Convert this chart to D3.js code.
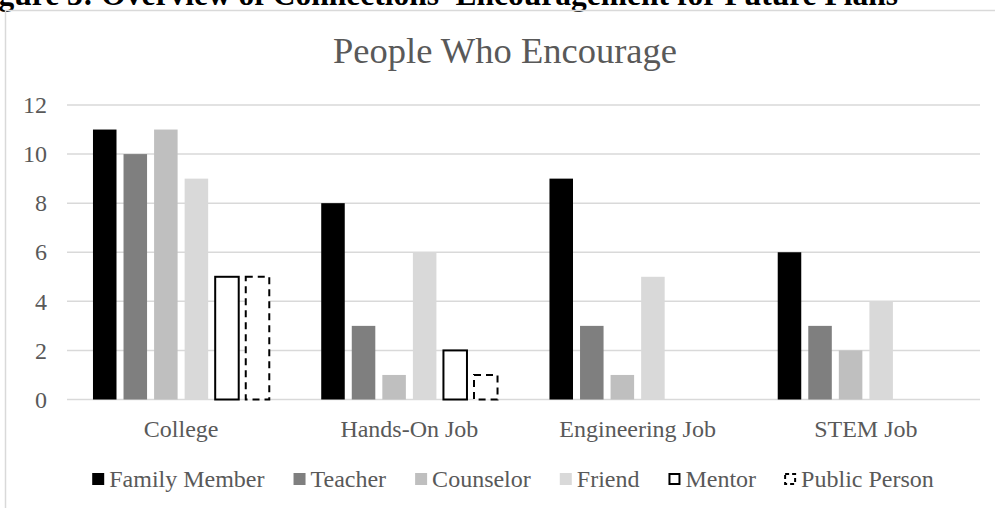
<!DOCTYPE html>
<html>
<head>
<meta charset="utf-8">
<script src="https://cdn.jsdelivr.net/npm/d3@7/dist/d3.min.js"></script>
<style>
  html, body { margin: 0; padding: 0; background: #fff; }
  svg { display: block; }
  text { font-family: "Liberation Serif", "Times New Roman", serif; }
</style>
</head>
<body>
<svg id="chart" width="995" height="508"></svg>
<script>
// Encouragement counts by plan type and by who gave it
const categories = ["College", "Hands-On Job", "Engineering Job", "STEM Job"];
const seriesNames = ["Family Member", "Teacher", "Counselor", "Friend", "Mentor", "Public Person"];

const familyMember = [11, 8, 9, 6];
const teacher      = [10, 3, 3, 3];
const counselor    = [11, 1, 1, 2];
const friend       = [9, 6, 5, 4];
const mentor       = [5, 2, 0, 0];
const publicPerson = [5, 1, 0, 0];

const yTicks = [0, 2, 4, 6, 8, 10, 12];

const seriesValues = [familyMember, teacher, counselor, friend, mentor, publicPerson];

// fill / outline for each series
const styles = {
  "Family Member": { fill: "#000000", stroke: "none", dash: null },
  "Teacher":       { fill: "#7f7f7f", stroke: "none", dash: null },
  "Counselor":     { fill: "#bfbfbf", stroke: "none", dash: null },
  "Friend":        { fill: "#d9d9d9", stroke: "none", dash: null },
  "Mentor":        { fill: "#ffffff", stroke: "#000000", dash: null },
  "Public Person": { fill: "#ffffff", stroke: "#000000", dash: "7,5" }
};

const svg = d3.select("#chart");
const textColor = "#595959";
const gridColor = "#d9d9d9";
const labelSize = 24;

// caption above the chart frame
svg.append("text")
  .attr("x", 898).attr("y", 5)
  .attr("text-anchor", "end")
  .attr("font-weight", "bold")
  .attr("font-size", 31.5)
  .attr("fill", "#000")
  .text("Figure 3: Overview of Connections' Encouragement for Future Plans");

// chart frame
svg.append("rect")
  .attr("x", 5.5).attr("y", 10.5)
  .attr("width", 1200).attr("height", 800)
  .attr("fill", "none")
  .attr("stroke", gridColor)
  .attr("stroke-width", 1.5);

// chart title
svg.append("text")
  .attr("x", 505).attr("y", 63)
  .attr("text-anchor", "middle")
  .attr("font-size", 36.5)
  .attr("fill", textColor)
  .text("People Who Encourage");

const plot = { left: 67, right: 980, top: 105, bottom: 399.5 };

const y = d3.scaleLinear().domain([0, 12]).range([plot.bottom, plot.top]);
const x0 = d3.scaleBand().domain(categories).range([plot.left, plot.right]);
const x1 = d3.scaleBand().domain(seriesNames)
  .range([0, x0.bandwidth()])
  .paddingInner(0.23)
  .paddingOuter(0.85);

// horizontal gridlines
svg.append("g")
  .selectAll("line")
  .data(yTicks)
  .join("line")
  .attr("x1", plot.left).attr("x2", plot.right)
  .attr("y1", d => y(d)).attr("y2", d => y(d))
  .attr("stroke", gridColor)
  .attr("stroke-width", 1.5);

// y axis labels
const yAxis = d3.axisLeft(y).tickValues(yTicks).tickSize(0).tickPadding(0);
const yg = svg.append("g").attr("transform", "translate(47,0)").call(yAxis);
yg.select(".domain").remove();
yg.selectAll("text")
  .attr("font-family", "Liberation Serif, serif")
  .attr("font-size", labelSize)
  .attr("fill", textColor);

// x axis labels
const xAxis = d3.axisBottom(x0).tickSize(0).tickPadding(0);
const xg = svg.append("g").attr("transform", "translate(0,420)").call(xAxis);
xg.select(".domain").remove();
xg.selectAll("text")
  .attr("font-family", "Liberation Serif, serif")
  .attr("font-size", labelSize)
  .attr("fill", textColor);

// bars
const barData = [];
categories.forEach((c, ci) => {
  seriesNames.forEach((s, si) => {
    barData.push({ category: c, series: s, value: seriesValues[si][ci] });
  });
});

svg.append("g")
  .selectAll("rect")
  .data(barData.filter(d => d.value > 0))
  .join("rect")
  .attr("x", d => x0(d.category) + x1(d.series))
  .attr("y", d => y(d.value))
  .attr("width", x1.bandwidth())
  .attr("height", d => y(0) - y(d.value))
  .attr("fill", d => styles[d.series].fill)
  .attr("stroke", d => styles[d.series].stroke)
  .attr("stroke-width", d => styles[d.series].stroke === "none" ? 0 : 2)
  .attr("stroke-dasharray", d => styles[d.series].dash);

// legend, laid out from measured text widths
const legend = svg.append("g");
const markerSize = 12, markerGap = 5, itemGap = 29, legendBaseline = 486.5;
const items = legend.selectAll("g")
  .data(seriesNames)
  .join("g");

items.append("rect")
  .attr("width", d => styles[d].stroke === "none" ? markerSize : markerSize - 2)
  .attr("height", d => styles[d].stroke === "none" ? markerSize : markerSize - 2)
  .attr("x", d => styles[d].stroke === "none" ? 0 : 1)
  .attr("y", d => legendBaseline - 13.5 + (styles[d].stroke === "none" ? 0 : 1))
  .attr("fill", d => styles[d].fill)
  .attr("stroke", d => styles[d].stroke)
  .attr("stroke-width", d => styles[d].stroke === "none" ? 0 : 2)
  .attr("stroke-dasharray", d => styles[d].dash ? "4,3" : null);

items.append("text")
  .attr("x", markerSize + markerGap)
  .attr("y", legendBaseline)
  .attr("font-size", labelSize)
  .attr("fill", textColor)
  .text(d => d);

let widths = [];
items.each(function () { widths.push(this.getBBox().width); });
const total = d3.sum(widths) + itemGap * (widths.length - 1);
let cx = 512.5 - total / 2;
items.attr("transform", (d, i) => {
  const t = `translate(${cx},0)`;
  cx += widths[i] + itemGap;
  return t;
});
</script>
</body>
</html>
